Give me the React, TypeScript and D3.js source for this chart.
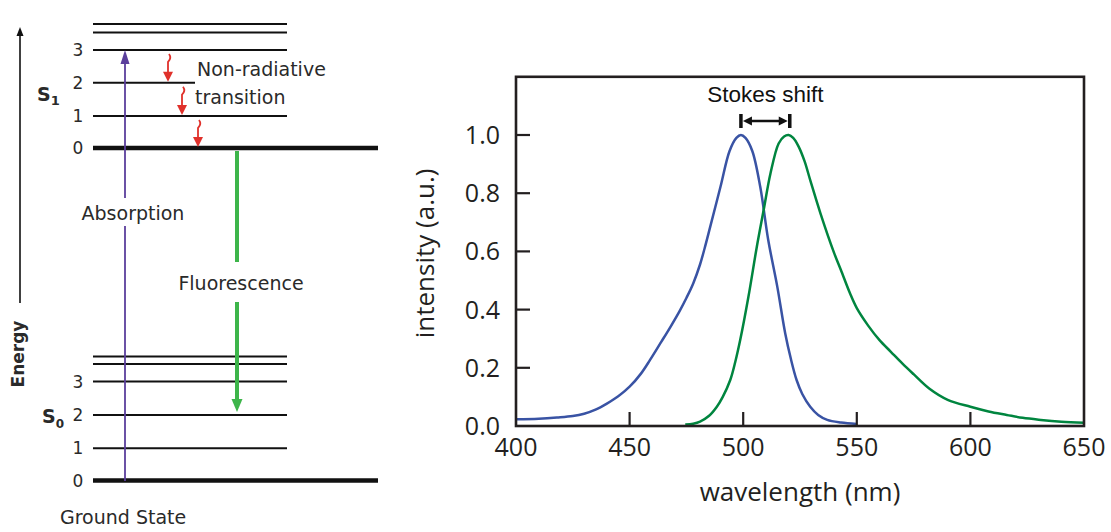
import React from 'react';
import * as d3 from 'd3';

// Absorption spectrum (blue)
const absWavelength = [400, 410, 418, 425, 430, 435, 440, 445, 450, 455, 459, 464, 468, 472, 475, 478, 481, 483, 485.5, 490, 494, 497, 499, 501, 504, 507.5, 511, 515, 518.5, 521, 523.5, 526, 529.5, 533, 537, 543, 550];
const absIntensity = [0.023, 0.025, 0.029, 0.034, 0.042, 0.056, 0.077, 0.102, 0.135, 0.18, 0.227, 0.29, 0.341, 0.395, 0.44, 0.49, 0.555, 0.61, 0.685, 0.822, 0.945, 0.99, 1.0, 0.99, 0.945, 0.822, 0.64, 0.479, 0.318, 0.23, 0.158, 0.11, 0.066, 0.038, 0.021, 0.012, 0.007];

// Emission spectrum (green)
const emWavelength = [474.5, 478, 481, 485, 488.4, 491, 494.3, 496.5, 498.7, 502.3, 506, 509, 512, 515.6, 518, 520, 522, 524.4, 527, 529.5, 534, 540, 543, 547, 550, 555, 560, 565, 570, 575, 582, 590, 600, 608, 616, 623, 631, 640, 650];
const emIntensity = [0.005, 0.008, 0.015, 0.035, 0.066, 0.1, 0.158, 0.22, 0.296, 0.444, 0.616, 0.742, 0.868, 0.971, 0.995, 1.0, 0.99, 0.96, 0.91, 0.845, 0.731, 0.595, 0.536, 0.456, 0.405, 0.345, 0.295, 0.255, 0.215, 0.178, 0.128, 0.09, 0.066, 0.05, 0.038, 0.028, 0.021, 0.015, 0.011];

const xTickValues = [400, 450, 500, 550, 600, 650];
const yTickValues = [0, 0.2, 0.4, 0.6, 0.8, 1.0];
const stokesPeaks = [499, 520.5];

const s1Levels = [
  { y: 24, x2: 287, w: 2, label: '' },
  { y: 32.5, x2: 287, w: 2, label: '' },
  { y: 50, x2: 287, w: 2, label: '3' },
  { y: 82.7, x2: 195, w: 2, label: '2' },
  { y: 116, x2: 287, w: 2, label: '1' },
  { y: 148, x2: 378, w: 4.5, label: '0' },
];
const s0Levels = [
  { y: 356.5, x2: 287, w: 2, label: '' },
  { y: 364, x2: 287, w: 2, label: '' },
  { y: 381.5, x2: 287, w: 2, label: '3' },
  { y: 415, x2: 287, w: 2, label: '2' },
  { y: 448.3, x2: 287, w: 2, label: '1' },
  { y: 480.5, x2: 378, w: 4.5, label: '0' },
];
const redArrows = [
  { x: 168, y0: 50, y1: 82.7 },
  { x: 182, y0: 82.7, y1: 116 },
  { x: 198, y0: 116, y1: 148 },
];

const BLUE = '#3953a4';
const GREEN = '#00853f';
const AX = '#231f20';
const TXT = '#2a2a2a';
const DIAG_FONT = '"DejaVu Sans", sans-serif';
const CHART_FONT = '"Open Sans", sans-serif';

export default function App() {
  const L = 516, R = 1084, T = 76.8, B = 426;
  const x = d3.scaleLinear().domain([400, 650]).range([L, R]);
  const y = d3.scaleLinear().domain([0, 1.2]).range([B, T]);
  const line = d3
    .line<[number, number]>()
    .x((d) => x(d[0]))
    .y((d) => y(d[1]))
    .curve(d3.curveCatmullRom.alpha(0.5));
  const absPath = line(absWavelength.map((w, i) => [w, absIntensity[i]] as [number, number])) || '';
  const emPath = line(emWavelength.map((w, i) => [w, emIntensity[i]] as [number, number])) || '';

  const sx0 = x(stokesPeaks[0]);
  const sx1 = x(stokesPeaks[1]);
  const sy = 121;

  return (
    <svg width={1111} height={532} style={{ position: 'absolute', left: 0, top: 0, background: '#fff' }}>
      {/* ---------- Jablonski diagram ---------- */}
      <g>
        <line x1={20} y1={303} x2={20} y2={34} stroke="#111" strokeWidth={1.6} />
        <path d="M20,27 L16.5,36 L23.5,36 Z" fill="#111" />
        <text
          transform="translate(24,354) rotate(-90)"
          textAnchor="middle"
          fontFamily={DIAG_FONT}
          fontSize={17}
          fontWeight={600}
          fill={TXT}
        >
          Energy
        </text>

        {[...s1Levels, ...s0Levels].map((lv, i) => (
          <g key={i}>
            <line x1={93} x2={lv.x2} y1={lv.y} y2={lv.y} stroke="#111" strokeWidth={lv.w} />
            {lv.label && (
              <text x={78} y={lv.y + 6} textAnchor="middle" fontFamily={DIAG_FONT} fontSize={17} fill={TXT}>
                {lv.label}
              </text>
            )}
          </g>
        ))}

        <text x={37} y={101} fontFamily={DIAG_FONT} fontSize={19} fontWeight={700} fill={TXT}>
          S<tspan fontSize={13} dy={4}>1</tspan>
        </text>
        <text x={42} y={423} fontFamily={DIAG_FONT} fontSize={19} fontWeight={700} fill={TXT}>
          S<tspan fontSize={12} dy={5}>0</tspan>
        </text>

        <line x1={125} y1={481} x2={125} y2={62} stroke="#5b3f9c" strokeWidth={1.8} />
        <path d="M125,50 L120.5,64 L129.5,64 Z" fill="#5b3f9c" />
        <rect x={78} y={198} width={112} height={28} fill="#fff" />
        <text x={133} y={220} textAnchor="middle" fontFamily={DIAG_FONT} fontSize={19} fill={TXT}>
          Absorption
        </text>

        {redArrows.map((a, i) => (
          <g key={i}>
            <path
              d={`M${a.x + 1},${a.y0 + 4} q3,4 -1,8 L${a.x},${a.y1 - 9}`}
              fill="none"
              stroke="#e0312b"
              strokeWidth={1.8}
            />
            <path d={`M${a.x},${a.y1 - 1} L${a.x - 5},${a.y1 - 11} L${a.x + 5},${a.y1 - 11} Z`} fill="#e0312b" />
          </g>
        ))}
        <text x={197} y={76} fontFamily={DIAG_FONT} fontSize={19} fill={TXT}>
          Non-radiative
        </text>
        <text x={195} y={104} fontFamily={DIAG_FONT} fontSize={19} fill={TXT}>
          transition
        </text>

        <line x1={237} y1={151} x2={237} y2={262} stroke="#3db54a" strokeWidth={4} />
        <line x1={237} y1={302} x2={237} y2={400} stroke="#3db54a" strokeWidth={4} />
        <path d="M237,412 L231.5,399 L242.5,399 Z" fill="#3db54a" />
        <text x={241} y={290} textAnchor="middle" fontFamily={DIAG_FONT} fontSize={19} fill={TXT}>
          Fluorescence
        </text>

        <text x={60} y={524} fontFamily={DIAG_FONT} fontSize={19} fill={TXT}>
          Ground State
        </text>
      </g>

      {/* ---------- Spectrum chart ---------- */}
      <g>
        <path d={absPath} fill="none" stroke={BLUE} strokeWidth={2.5} />
        <path d={emPath} fill="none" stroke={GREEN} strokeWidth={2.5} />

        <rect x={L} y={T} width={R - L} height={B - T} fill="none" stroke={AX} strokeWidth={2.6} />

        {xTickValues.map((v) => (
          <g key={v}>
            {v > 400 && v < 650 && (
              <line x1={x(v)} x2={x(v)} y1={B} y2={B - 14} stroke={AX} strokeWidth={2.2} />
            )}
            <text x={x(v)} y={456} textAnchor="middle" fontFamily={CHART_FONT} fontSize={25} fill={AX}>
              {v}
            </text>
          </g>
        ))}
        {yTickValues.map((v) => (
          <g key={v}>
            {v > 0 && <line x1={L} x2={L + 14} y1={y(v)} y2={y(v)} stroke={AX} strokeWidth={2.2} />}
            <text x={500} y={y(v) + 9} textAnchor="end" fontFamily={CHART_FONT} fontSize={25} fill={AX}>
              {v.toFixed(1)}
            </text>
          </g>
        ))}

        <text x={(L + R) / 2} y={501} textAnchor="middle" fontFamily={CHART_FONT} fontSize={26} fill={AX}>
          wavelength (nm)
        </text>
        <text
          transform={`translate(434,${(B + T) / 2 + 2}) rotate(-90)`}
          textAnchor="middle"
          fontFamily={CHART_FONT}
          fontSize={26}
          fill={AX}
        >
          intensity (a.u.)
        </text>

        <text x={(sx0 + sx1) / 2} y={102} textAnchor="middle" fontFamily='"Liberation Sans", Arial, sans-serif' fontSize={22.5} fill="#111">
          Stokes shift
        </text>
        <line x1={sx0} x2={sx0} y1={sy - 7} y2={sy + 7} stroke="#111" strokeWidth={3.5} />
        <line x1={sx1} x2={sx1} y1={sy - 7} y2={sy + 7} stroke="#111" strokeWidth={3.5} />
        <line x1={sx0 + 8} x2={sx1 - 8} y1={sy} y2={sy} stroke="#111" strokeWidth={2.4} />
        <path d={`M${sx0 + 2},${sy} L${sx0 + 11},${sy - 4.5} L${sx0 + 11},${sy + 4.5} Z`} fill="#111" />
        <path d={`M${sx1 - 2},${sy} L${sx1 - 11},${sy - 4.5} L${sx1 - 11},${sy + 4.5} Z`} fill="#111" />
      </g>
    </svg>
  );
}
